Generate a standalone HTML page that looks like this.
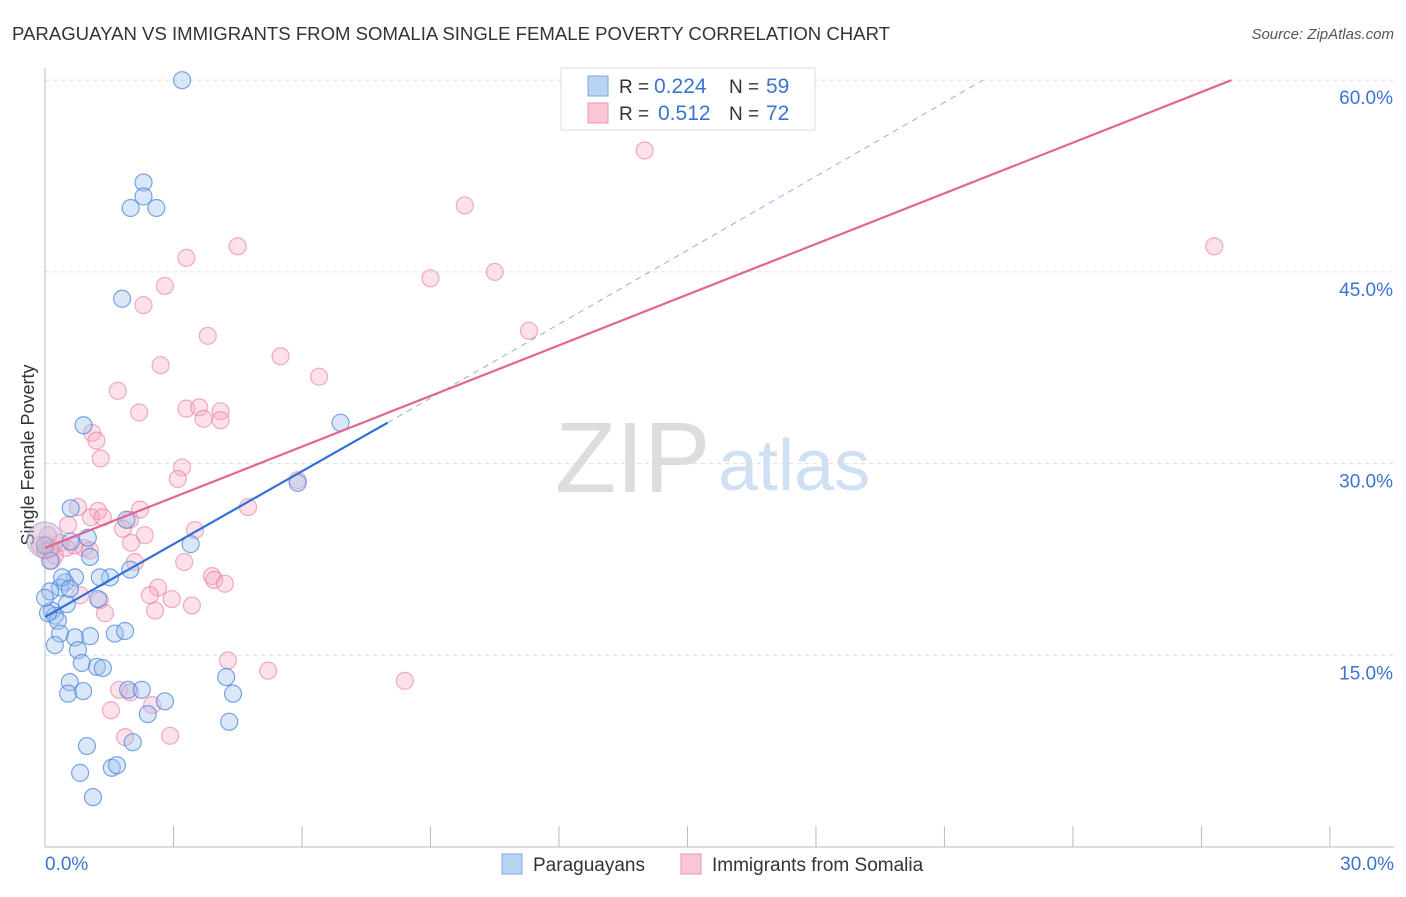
<!DOCTYPE html>
<html><head><meta charset="utf-8"><style>
body{margin:0;background:#fff;font-family:"Liberation Sans",sans-serif;}
svg text{font-family:"Liberation Sans",sans-serif;}
</style></head><body>
<svg id="c" width="1406" height="892">
<text x="12" y="40" font-size="18" fill="#333" textLength="878" lengthAdjust="spacingAndGlyphs">PARAGUAYAN VS IMMIGRANTS FROM SOMALIA SINGLE FEMALE POVERTY CORRELATION CHART</text>
<text x="1394" y="39" font-size="15" fill="#555" font-style="italic" text-anchor="end">Source: ZipAtlas.com</text>
<text transform="translate(34,455) rotate(-90)" font-size="18" fill="#333" text-anchor="middle">Single Female Poverty</text>
<text x="555" y="492" font-size="100" fill="#ddd" font-family="Liberation Serif">ZIP</text>
<text x="718" y="490" font-size="72" fill="#cfe0f3">atlas</text>
<g id="grid"></g><g id="pts"></g><g id="lines"></g>
<g>
<rect x="561" y="68" width="254" height="62" fill="#fff" stroke="#ddd"/>
<rect x="588" y="76" width="20" height="20" fill="#b9d3f5" stroke="#7aa7e3"/>
<rect x="588" y="103" width="20" height="20" fill="#fac6d6" stroke="#ee94b0"/>
<text x="619" y="93" font-size="19" fill="#333">R =</text>
<text x="654" y="93" font-size="21" fill="#3b73d2">0.224</text>
<text x="729" y="93" font-size="19" fill="#333">N =</text>
<text x="766" y="93" font-size="21" fill="#3b73d2">59</text>
<text x="619" y="120" font-size="19" fill="#333">R =</text>
<text x="658" y="120" font-size="21" fill="#3b73d2">0.512</text>
<text x="729" y="120" font-size="19" fill="#333">N =</text>
<text x="766" y="120" font-size="21" fill="#3b73d2">72</text>
</g>
<g>
<rect x="502" y="854" width="20" height="20" fill="#b9d3f5" stroke="#7aa7e3"/>
<text x="533" y="871" font-size="19" fill="#333">Paraguayans</text>
<rect x="681" y="854" width="20" height="20" fill="#fac6d6" stroke="#ee94b0"/>
<text x="712" y="871" font-size="19" fill="#333">Immigrants from Somalia</text>
</g>
</svg>
<script>
const yTicks=[15,30,45,60];
const xTickCount=10;
const blueX=[3.2,2.3,2.3,2.0,2.6,1.8,0.9,6.9,5.9,1.9,0.6,3.4,1.0,1.05,0.6,1.99,1.52,0.70,0.47,0.35,0.12,1.24,0.51,0.16,0.23,0.30,0.35,1.05,1.63,1.87,0.70,0.77,0.23,0.86,1.21,1.35,0.58,0.54,0.89,1.94,2.26,2.80,2.40,4.23,4.39,4.30,0.98,2.05,0.82,1.56,1.68,1.12,0.0,0.12,0.07,0.0,1.28,0.40,0.58];
const blueY=[60.0,52.0,50.9,50.0,50.0,42.9,33.0,33.2,28.5,25.6,26.5,23.7,24.2,22.7,23.9,21.7,21.1,21.1,20.7,20.3,20.0,19.4,19.0,18.5,18.1,17.7,16.7,16.5,16.7,16.9,16.4,15.4,15.8,14.4,14.1,14.0,12.9,12.0,12.2,12.3,12.3,11.4,10.4,13.3,12.0,9.8,7.9,8.2,5.8,6.2,6.4,3.9,23.6,22.4,18.3,19.5,21.1,21.1,20.2];
const pinkX=[14.0,9.8,27.3,4.5,3.3,10.5,9.0,2.8,2.3,11.3,3.8,5.5,2.7,6.4,1.7,2.2,3.3,3.6,4.1,3.7,4.1,1.1,1.2,1.3,3.2,3.1,5.9,0.77,1.24,2.22,4.74,1.07,1.98,1.35,0.54,1.82,2.33,3.50,2.01,0.35,0.68,0.91,0.0,0.16,0.23,2.10,3.25,3.90,3.95,4.20,2.64,2.45,2.96,3.43,1.28,1.40,2.57,0.82,4.27,5.21,8.4,1.73,1.99,1.54,2.50,1.87,2.92,-0.12,0.12,1.05,0.49,0.07];
const pinkY=[54.5,50.2,47.0,47.0,46.1,45.0,44.5,43.9,42.4,40.4,40.0,38.4,37.7,36.8,35.7,34.0,34.3,34.4,34.1,33.5,33.4,32.4,31.8,30.4,29.7,28.8,28.7,26.6,26.3,26.4,26.6,25.8,25.6,25.8,25.2,24.9,24.4,24.8,23.8,23.8,23.6,23.4,23.2,22.4,22.8,22.3,22.3,21.2,20.9,20.6,20.3,19.7,19.4,18.9,19.3,18.3,18.5,19.7,14.6,13.8,13.0,12.3,12.1,10.7,11.1,8.6,8.7,23.6,23.4,23.2,23.4,24.4];
const blueLine=[[0,18.0],[8.0,33.2]];
const blueDash=[[8.0,33.2],[21.9,60.0]];
const pinkLine=[[0,23.4],[27.7,60.0]];
const NS='http://www.w3.org/2000/svg';
const X=v=>45+v*42.83, Y=v=>847-v*12.78;
function mk(t,a,p){const e=document.createElementNS(NS,t);for(const k in a)e.setAttribute(k,a[k]);p.appendChild(e);return e;}
const grid=document.getElementById('grid');
yTicks.forEach(t=>{
 const l=mk('line',{x1:45,x2:1394,y1:Y(t),y2:Y(t),stroke:'#ddd','stroke-dasharray':'4,4'},grid);
 
 
 const tx=mk('text',{x:1393,y:Y(t)+24,'font-size':19,fill:'#3b73d2','text-anchor':'end'},grid);tx.textContent=t.toFixed(1)+'%';
 
 
});
const ax=mk('line',{x1:45,x2:45,y1:68,y2:847,stroke:'#bbb'},grid);


const bx=mk('line',{x1:45,x2:1394,y1:847,y2:847,stroke:'#bbb'},grid);


for(let i=0;i<=xTickCount;i++){const x=X(i*3);const t=mk('line',{x1:x,x2:x,y1:826,y2:847,stroke:'#bbb'},grid);
 
 }
const x0=mk('text',{x:45,y:870,'font-size':19,fill:'#3b73d2'},grid);x0.textContent='0.0%';


const x1=mk('text',{x:1394,y:870,'font-size':19,fill:'#3b73d2','text-anchor':'end'},grid);x1.textContent='30.0%';


const pts=document.getElementById('pts');
pinkX.forEach((v,i)=>{const c=mk('circle',{cx:X(v),cy:Y(pinkY[i]),r:8.5,fill:'rgba(246,170,195,0.35)',stroke:'rgba(232,120,160,0.6)','stroke-width':1.2},pts);
 
 });
blueX.forEach((v,i)=>{const c=mk('circle',{cx:X(v),cy:Y(blueY[i]),r:8.5,fill:'rgba(160,195,240,0.4)',stroke:'rgba(70,130,215,0.7)','stroke-width':1.2},pts);
 
 });
const big=mk('circle',{cx:45,cy:540,r:18,fill:'rgba(200,180,210,0.45)',stroke:'rgba(150,140,200,0.6)'},pts);


const lines=document.getElementById('lines');
const bl=mk('line',{x1:X(blueLine[0][0]),y1:Y(blueLine[0][1]),x2:X(blueLine[1][0]),y2:Y(blueLine[1][1]),stroke:'#2f6fd6','stroke-width':2.2},lines);


const bd=mk('line',{x1:X(blueDash[0][0]),y1:Y(blueDash[0][1]),x2:X(blueDash[1][0]),y2:Y(blueDash[1][1]),stroke:'#8fb2e3','stroke-width':1,'stroke-dasharray':'6,5'},lines);


const pl=mk('line',{x1:X(pinkLine[0][0]),y1:Y(pinkLine[0][1]),x2:X(pinkLine[1][0]),y2:Y(pinkLine[1][1]),stroke:'#e3658f','stroke-width':2.2},lines);


</script>
</body></html>
